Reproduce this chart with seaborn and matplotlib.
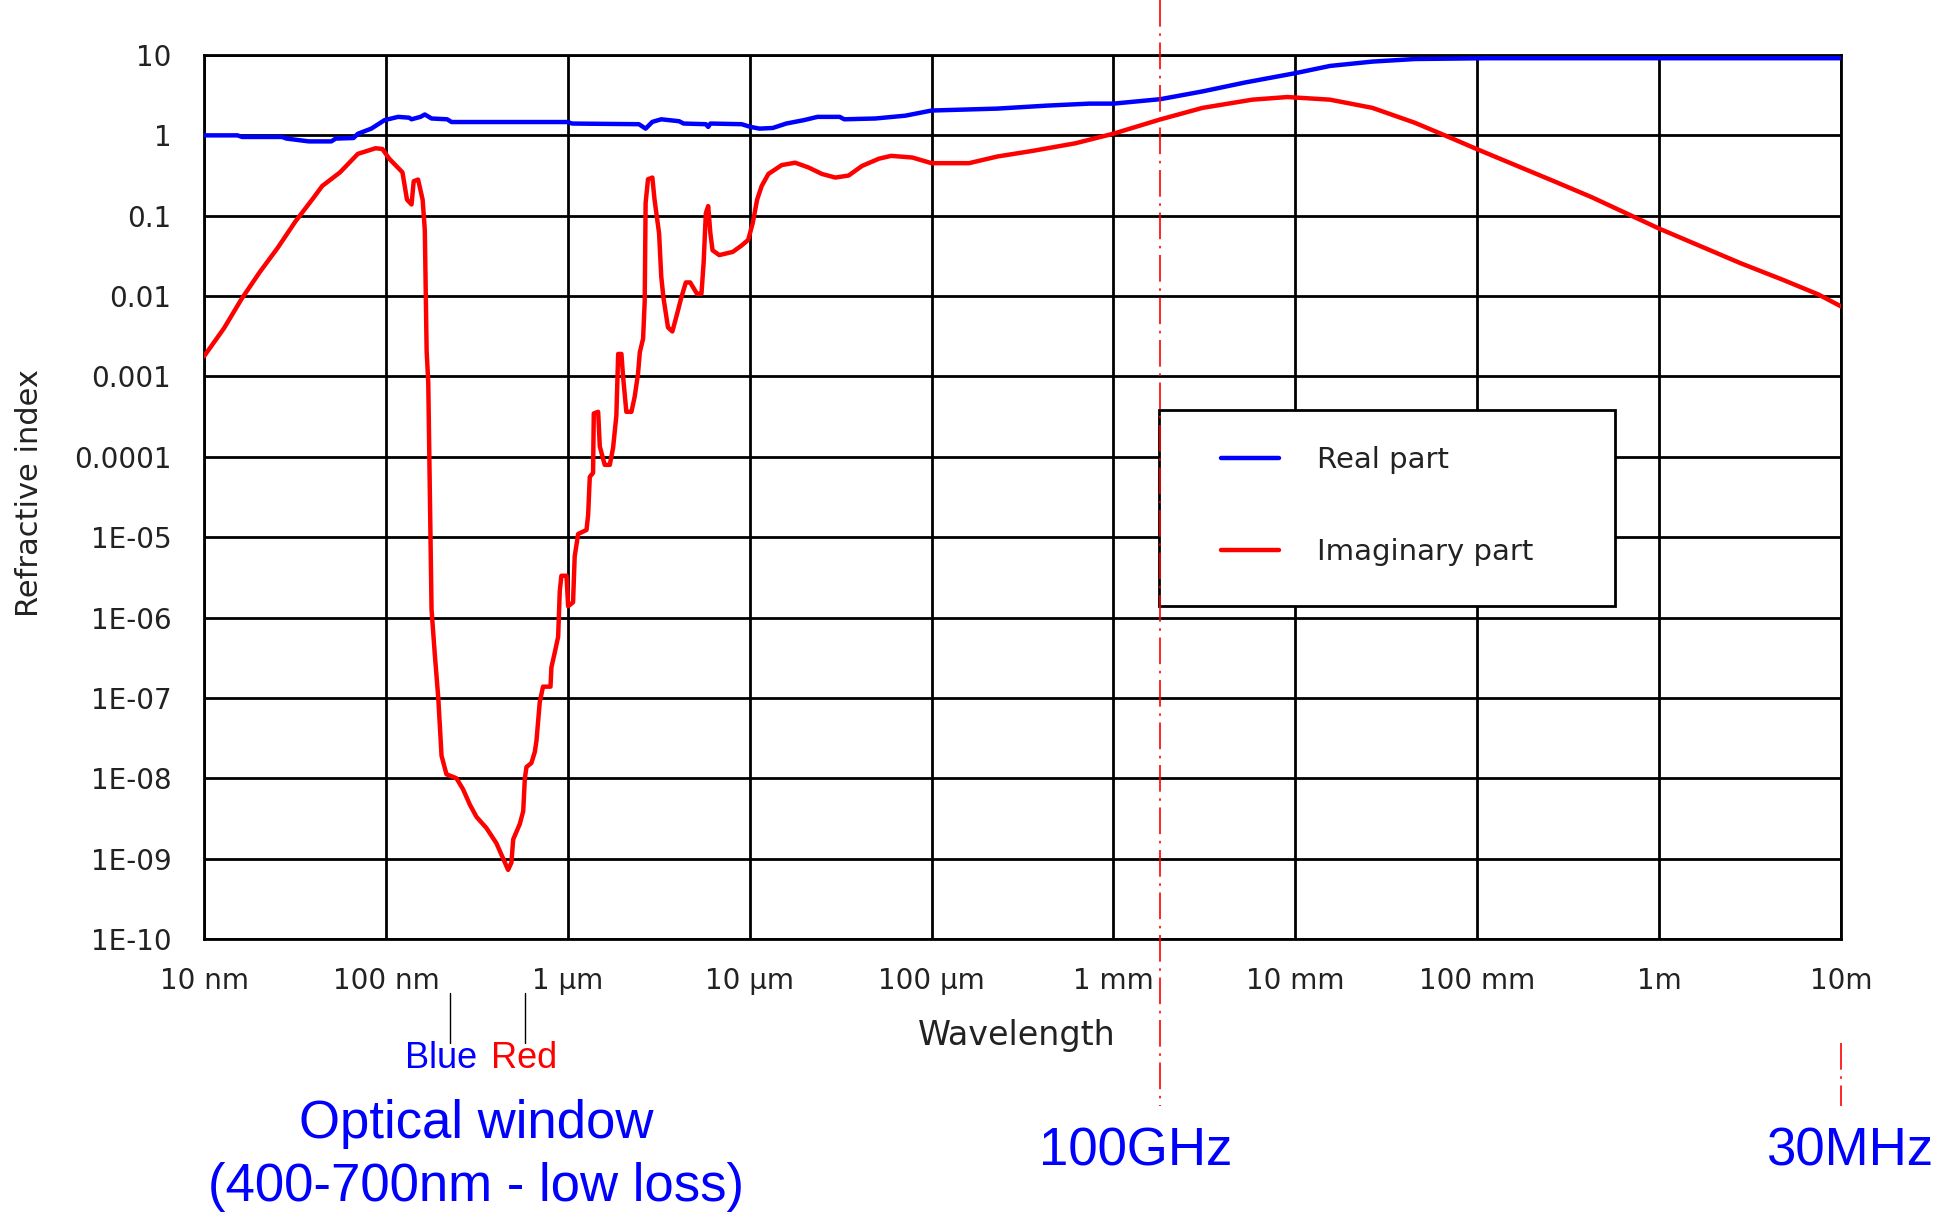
import numpy as np
import pandas as pd
import matplotlib
matplotlib.use("Agg")
import matplotlib.pyplot as plt
import matplotlib.transforms as mtransforms
from matplotlib.patches import Rectangle
from matplotlib.lines import Line2D
from matplotlib.ticker import NullLocator, FixedLocator, FixedFormatter
import seaborn as sns

# ---------------- data (log10 of wavelength in metres, log10 of index) ----------------
real_log_wl = [-8.0, -7.816, -7.79, -7.571, -7.546, -7.424, -7.30, -7.276, -7.178, -7.154,
               -7.08, -7.007, -6.933, -6.872, -6.859, -6.81, -6.786, -6.749, -6.663, -6.639,
               -6.001, -5.976, -5.609, -5.572, -5.535, -5.486, -5.388, -5.363, -5.241, -5.228,
               -5.216, -5.044, -4.995, -4.946, -4.873, -4.799, -4.701, -4.627, -4.505, -4.48,
               -4.309, -4.144, -4.0, -3.638, -3.366, -3.132, -3.0, -2.743, -2.51, -2.276,
               -2.0, -1.809, -1.576, -1.342, -0.953, 1.0]
real_log_n = [0.0, 0.0, -0.02, -0.02, -0.04, -0.075, -0.075, -0.04, -0.033, 0.02,
              0.084, 0.19, 0.23, 0.22, 0.20, 0.23, 0.26, 0.21, 0.20, 0.166,
              0.166, 0.147, 0.139, 0.084, 0.168, 0.20, 0.176, 0.147, 0.139, 0.105,
              0.147, 0.139, 0.105, 0.084, 0.092, 0.147, 0.19, 0.23, 0.23, 0.20,
              0.21, 0.245, 0.309, 0.333, 0.37, 0.395, 0.395, 0.45, 0.547, 0.658,
              0.774, 0.864, 0.918, 0.95, 0.96, 0.96]

imag_log_wl = [-8.0, -7.89, -7.792, -7.693, -7.595, -7.497, -7.399, -7.35, -7.252, -7.154,
               -7.056, -7.019, -6.982, -6.909, -6.884, -6.859, -6.847, -6.823, -6.798, -6.786,
               -6.776, -6.767, -6.749, -6.731, -6.712, -6.694, -6.667, -6.612, -6.575, -6.538,
               -6.502, -6.447, -6.392, -6.355, -6.328, -6.31, -6.30, -6.264, -6.245, -6.236,
               -6.227, -6.20, -6.181, -6.172, -6.154, -6.136, -6.095, -6.09, -6.071, -6.053,
               -6.044, -6.035, -6.007, -5.998, -5.971, -5.962, -5.943, -5.897, -5.888, -5.879,
               -5.861, -5.857, -5.833, -5.824, -5.797, -5.769, -5.751, -5.733, -5.723, -5.705,
               -5.696, -5.678, -5.65, -5.632, -5.614, -5.604, -5.586, -5.577, -5.572, -5.559,
               -5.535, -5.523, -5.498, -5.486, -5.474, -5.449, -5.425, -5.40, -5.376, -5.351,
               -5.327, -5.29, -5.265, -5.253, -5.241, -5.228, -5.216, -5.204, -5.167, -5.093,
               -5.044, -5.008, -4.983, -4.959, -4.934, -4.897, -4.824, -4.75, -4.676, -4.603,
               -4.529, -4.456, -4.382, -4.289, -4.222, -4.105, -4.0, -3.794, -3.638, -3.444,
               -3.21, -3.0, -2.743, -2.51, -2.237, -2.043, -1.809, -1.576, -1.342, -1.148,
               -1.0, -0.759, -0.564, -0.37, -0.175, 0.0, 0.214, 0.447, 0.681, 0.876,
               1.0]
imag_log_n = [-2.75, -2.40, -2.03, -1.70, -1.40, -1.07, -0.78, -0.63, -0.46, -0.23,
              -0.16, -0.17, -0.29, -0.46, -0.80, -0.86, -0.57, -0.55, -0.80, -1.18,
              -2.68, -3.08, -5.9, -6.46, -7.0, -7.72, -7.95, -8.0, -8.14, -8.33,
              -8.48, -8.62, -8.81, -9.0, -9.14, -9.05, -8.76, -8.57, -8.41, -8.0,
              -7.86, -7.81, -7.67, -7.53, -7.05, -6.86, -6.86, -6.62, -6.43, -6.24,
              -5.67, -5.48, -5.48, -5.86, -5.81, -5.24, -4.96, -4.91, -4.72, -4.25,
              -4.2, -3.46, -3.44, -3.87, -4.1, -4.1, -3.89, -3.49, -2.72, -2.72,
              -3.0, -3.44, -3.44, -3.25, -2.97, -2.70, -2.53, -2.06, -0.84, -0.546,
              -0.525, -0.80, -1.22, -1.76, -2.02, -2.39, -2.44, -2.23, -2.02, -1.83,
              -1.83, -1.97, -1.97, -1.58, -0.97, -0.88, -1.22, -1.43, -1.49, -1.45,
              -1.37, -1.30, -1.09, -0.80, -0.63, -0.48, -0.37, -0.34, -0.40, -0.48,
              -0.525, -0.50, -0.38, -0.29, -0.255, -0.276, -0.346, -0.346, -0.263, -0.193,
              -0.099, 0.021, 0.198, 0.342, 0.444, 0.477, 0.444, 0.342, 0.156, -0.029,
              -0.173, -0.40, -0.584, -0.77, -0.975, -1.16, -1.366, -1.59, -1.798, -1.98,
              -2.128]

series_names = ["Real part", "Imaginary part"]
series_colors = ["#0000FF", "#FF0000"]

x_tick_values = [1e-8, 1e-7, 1e-6, 1e-5, 1e-4, 1e-3, 1e-2, 1e-1, 1e0, 1e1]
x_tick_labels = ["10 nm", "100 nm", "1 µm", "10 µm", "100 µm", "1 mm", "10 mm", "100 mm", "1m", "10m"]
y_tick_values = [1e1, 1e0, 1e-1, 1e-2, 1e-3, 1e-4, 1e-5, 1e-6, 1e-7, 1e-8, 1e-9, 1e-10]
y_tick_labels = ["10", "1", "0.1", "0.01", "0.001", "0.0001", "1E-05", "1E-06",
                 "1E-07", "1E-08", "1E-09", "1E-10"]

marker_100ghz = 1.8e-3      # where the 100GHz marker is drawn
marker_30mhz = 10.0
blue_mark = 2.25e-7
red_mark = 5.8e-7

assert len(real_log_wl) == len(real_log_n)
assert len(imag_log_wl) == len(imag_log_n)

# ---------------- figure ----------------
sns.set_style("white")
plt.rcParams['font.family'] = ['DejaVu Sans']
plt.rcParams['axes.unicode_minus'] = False

W, H = 1959, 1216
fig = plt.figure(figsize=(W / 100, H / 100), dpi=100)
fig.patch.set_facecolor("white")

def fx(px):
    return px / W

def fy(py):
    return 1 - py / H

ax = fig.add_axes([fx(204), fy(939), fx(1841) - fx(204), fy(55) - fy(939)])

df = pd.concat([
    pd.DataFrame({"wavelength": 10 ** np.array(real_log_wl), "n": 10 ** np.array(real_log_n),
                  "part": series_names[0]}),
    pd.DataFrame({"wavelength": 10 ** np.array(imag_log_wl), "n": 10 ** np.array(imag_log_n),
                  "part": series_names[1]}),
], ignore_index=True)

sns.lineplot(data=df, x="wavelength", y="n", hue="part",
             palette=dict(zip(series_names, series_colors)),
             sort=False, estimator=None, linewidth=3.2, legend=False, ax=ax, zorder=3)

ax.set_xscale("log")
ax.set_yscale("log")
ax.set_xlim(1e-8, 10)
ax.set_ylim(1e-10, 10)
ax.xaxis.set_major_locator(FixedLocator(x_tick_values))
ax.xaxis.set_major_formatter(FixedFormatter(x_tick_labels))
ax.yaxis.set_major_locator(FixedLocator(y_tick_values))
ax.yaxis.set_major_formatter(FixedFormatter(y_tick_labels))
ax.xaxis.set_minor_locator(NullLocator())
ax.yaxis.set_minor_locator(NullLocator())

ax.grid(True, which="major", color="black", linewidth=2.0)
ax.set_axisbelow(True)
for s in ax.spines.values():
    s.set_visible(True)
    s.set_color("black")
    s.set_linewidth(2.0)
ax.tick_params(axis="both", which="major", direction="out", length=8.5, width=2.0,
               color="black", labelsize=20, labelcolor="#222222")
ax.tick_params(axis="y", pad=15)
ax.tick_params(axis="x", pad=12)
ax.set_xlabel("")
ax.set_ylabel("")

# axis titles
fig.text(fx(1017), fy(1036), "Wavelength", fontsize=24, color="#222222", ha="center", va="center")
fig.text(fx(30), fy(493), "Refractive index", fontsize=22, color="#222222", ha="center",
         va="center", rotation=90)

# legend box
rect = Rectangle((fx(1159), fy(606)), fx(1615) - fx(1159), fy(410) - fy(606),
                 transform=fig.transFigure, facecolor="white", edgecolor="black",
                 linewidth=2.0, zorder=4.5, clip_on=False)
ax.add_patch(rect)
handles = [Line2D([], [], color=c, linewidth=3.2) for c in series_colors]
leg = ax.legend(handles, series_names, loc="center left",
                bbox_to_anchor=(fx(1221), fy(506)), bbox_transform=fig.transFigure,
                frameon=False, fontsize=21, borderpad=0, borderaxespad=0,
                handlelength=2.0, handletextpad=1.3, labelspacing=2.2)
for t in leg.get_texts():
    t.set_color("#222222")
leg.set_zorder(5)

# frequency markers (dash-dot red)
blend = mtransforms.blended_transform_factory(ax.transData, fig.transFigure)
ax.plot([marker_100ghz, marker_100ghz], [1.0, fy(1106)], transform=blend, color="#FF0000",
        linewidth=1.2, linestyle=(0, (16, 4, 1.5, 4)), clip_on=False, zorder=6)
ax.plot([marker_30mhz, marker_30mhz], [fy(1043), fy(1106)], transform=blend, color="#FF0000",
        linewidth=1.2, linestyle=(0, (16, 4, 1.5, 4)), clip_on=False, zorder=6)

# Blue / Red pointers
for xm in (blue_mark, red_mark):
    ax.plot([xm, xm], [fy(993), fy(1043)], transform=blend, color="black", linewidth=1.0,
            clip_on=False, zorder=6)

ann = dict(family=["Liberation Sans", "DejaVu Sans"])
fig.text(fx(441), fy(1058), "Blue", fontsize=26, color="#0000FF", ha="center", va="center", **ann)
fig.text(fx(524), fy(1058), "Red", fontsize=26, color="#FF0000", ha="center", va="center", **ann)
fig.text(fx(476), fy(1124), "Optical window", fontsize=38, color="#0000FF", ha="center",
         va="center", **ann)
fig.text(fx(476), fy(1187), "(400-700nm - low loss)", fontsize=38, color="#0000FF",
         ha="center", va="center", **ann)
fig.text(fx(1136), fy(1151), "100GHz", fontsize=38, color="#0000FF", ha="center",
         va="center", **ann)
fig.text(fx(1850), fy(1151), "30MHz", fontsize=38, color="#0000FF", ha="center",
         va="center", **ann)

fig.savefig("out.png", dpi=100, facecolor="white")
